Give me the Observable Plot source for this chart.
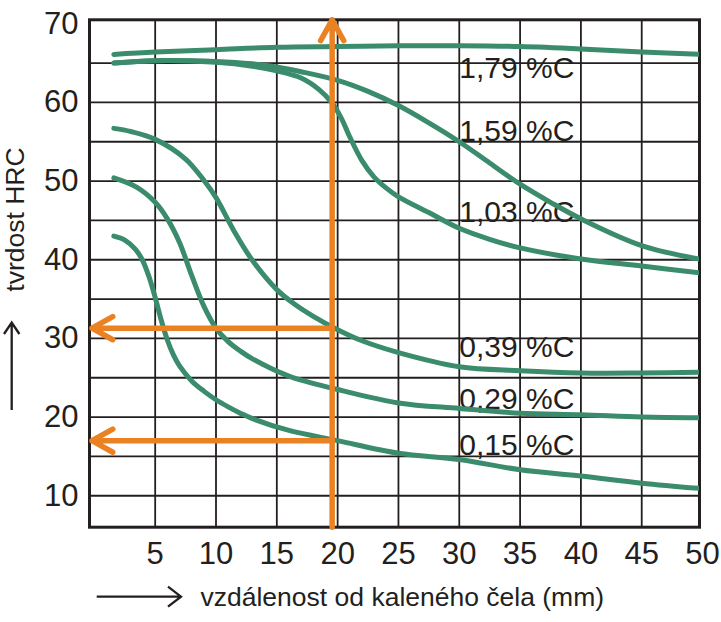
<!DOCTYPE html>
<html>
<head>
<meta charset="utf-8">
<script src="https://cdn.jsdelivr.net/npm/d3@7"></script>
<script src="https://cdn.jsdelivr.net/npm/@observablehq/plot@0.6"></script>
<style>
  html, body { margin: 0; padding: 0; background: #fff; }
</style>
</head>
<body>
<div id="chart"></div>
<script>
// ---- data ----
const xTicks = [5, 10, 15, 20, 25, 30, 35, 40, 45, 50];
const yTicks = [10, 20, 30, 40, 50, 60, 70];
const xGridLines = [5, 10, 15, 20, 25, 30, 35, 40, 45];
const yGridLines = [10, 15, 20, 25, 30, 35, 40, 45, 50, 55, 60, 65];

// 1,79 %C
const x179 = [1.6, 5, 10, 15, 20, 25, 30, 35, 40, 45, 50];
const y179 = [66.1, 66.4, 66.7, 67.0, 67.1, 67.2, 67.2, 67.1, 66.8, 66.4, 66.1];
// 1,59 %C
const x159 = [1.6, 5, 10, 13, 15, 17, 20, 22.5, 25, 27.5, 30, 32.5, 35, 37.5, 40, 45, 50];
const y159 = [65.0, 65.3, 65.2, 64.9, 64.5, 63.9, 62.8, 61.4, 59.6, 57.4, 55.0, 52.3, 49.6, 47.3, 45.2, 41.8, 40.0];
// 1,03 %C
const x103 = [1.6, 5, 10, 13, 15, 17, 18.5, 19.5, 20.3, 21, 22, 23, 24, 25, 27.5, 30, 32.5, 35, 40, 45, 50];
const y103 = [65.0, 65.3, 65.1, 64.6, 64.0, 63.1, 61.6, 60.0, 58.0, 55.6, 52.6, 50.5, 49.1, 48.0, 46.0, 44.0, 42.6, 41.5, 40.1, 39.2, 38.3];
// 0,39 %C
const x039 = [1.6, 3, 5, 7.5, 9, 10, 11.5, 13, 15, 16.5, 18, 20, 22, 25, 30, 35, 40, 45, 50];
const y039 = [56.7, 56.3, 55.3, 52.8, 50.1, 47.9, 43.6, 39.9, 36.2, 34.3, 32.8, 31.1, 29.7, 28.2, 26.4, 25.9, 25.6, 25.6, 25.7];
// 0,29 %C
const x029 = [1.6, 3.5, 5, 6, 7, 8, 9, 10, 11, 12, 13, 16, 20, 25, 30, 35, 40, 45, 50];
const y029 = [50.4, 49.2, 47.3, 45.2, 42.2, 38.0, 34.1, 31.3, 29.6, 28.4, 27.4, 25.2, 23.5, 21.8, 21.1, 20.5, 20.3, 20.0, 19.9];
// 0,15 %C
const x015 = [1.6, 2.5, 3.4, 4, 4.5, 5, 5.5, 6, 6.5, 7, 8, 9, 10, 11, 12, 13, 16, 20, 25, 30, 35, 40, 45, 50];
const y015 = [43.0, 42.5, 41.3, 39.8, 37.8, 35.2, 32.3, 29.8, 27.9, 26.5, 24.6, 23.3, 22.2, 21.3, 20.5, 19.8, 18.3, 17.0, 15.4, 14.6, 13.3, 12.5, 11.6, 10.9];

const seriesNames = ["1,79 %C", "1,59 %C", "1,03 %C", "0,39 %C", "0,29 %C", "0,15 %C"];
const seriesX = [x179, x159, x103, x039, x029, x015];
const seriesY = [y179, y159, y103, y039, y029, y015];

// curve labels (left edge at distance 30 mm, vertical centre in HRC)
const labelX = [30, 30, 30, 30, 30, 30];
const labelY = [64.3, 56.3, 46.0, 28.9, 22.3, 16.4];

// orange reading arrows
const readX = 19.55;
const readHRC = [31.3, 17.0];  // resulting hardness values
const arrowTop = 70.5, arrowBottom = 6, arrowLeft = -0.2;

const xTitle = "vzdálenost od kaleného čela (mm)";
const yTitle = "tvrdost HRC";

// ---- build tables ----
const curves = seriesNames.flatMap((name, i) =>
  seriesX[i].map((x, j) => ({series: name, x, y: seriesY[i][j]})));
const labels = seriesNames.map((name, i) => ({text: name, x: labelX[i], y: labelY[i]}));
const arrows = [
  {x1: readX, y1: arrowBottom, x2: readX, y2: arrowTop},
  ...readHRC.map(h => ({x1: readX, y1: h, x2: arrowLeft, y2: h}))
];

const green = "#3b8c6c";
const orange = "#ea8224";
const ink = "#231f20";

const chart = Plot.plot({
  width: 721,
  height: 622,
  marginLeft: 89,
  marginRight: 22,
  marginTop: 19.3,
  marginBottom: 95.3,
  style: {fontFamily: "'Liberation Sans', Arial, sans-serif", background: "#fff", color: ink},
  x: {domain: [-0.4, 49.75]},
  y: {domain: [6, 70.5]},
  marks: [
    Plot.gridX(xGridLines, {stroke: ink, strokeOpacity: 1, strokeWidth: 1.8}),
    Plot.gridY(yGridLines, {stroke: ink, strokeOpacity: 1, strokeWidth: 1.8}),
    Plot.frame({stroke: ink, strokeWidth: 3}),
    Plot.axisX(xTicks, {tickSize: 0, tickPadding: 15, fontSize: 31, label: null, fill: ink}),
    Plot.axisY(yTicks, {tickSize: 0, tickPadding: 11, fontSize: 31, label: null, fill: ink}),
    Plot.text(labels, {x: "x", y: "y", text: "text", textAnchor: "start", fontSize: 30, fill: ink}),
    Plot.line(curves, {x: "x", y: "y", z: "series", curve: "catmull-rom", stroke: green, strokeWidth: 5, clip: true}),
    Plot.arrow(arrows, {x1: "x1", y1: "y1", x2: "x2", y2: "y2", stroke: orange, strokeWidth: 5.5, headLength: 6.5, headAngle: 58}),
    Plot.text([xTitle], {frameAnchor: "bottom-left", dx: 111, dy: 78.3, textAnchor: "start", lineAnchor: "bottom", fontSize: 26.5, fill: ink}),
    Plot.text([yTitle], {frameAnchor: "left", dx: -65.7, dy: -54, rotate: -90, textAnchor: "middle", lineAnchor: "bottom", fontSize: 26.5, fill: ink})
  ]
});

// decorative direction arrows beside the axis titles
const svg = d3.select(chart);
const deco = svg.append("g").attr("fill", "none").attr("stroke", ink).attr("stroke-width", 2.3);
deco.append("path").attr("d", "M11.7,410V322.5M4,334L11.7,322.5L19.4,334");
deco.append("path").attr("d", "M96.7,596.7H181M168,586.7L181,596.7L168,606.7");

document.getElementById("chart").appendChild(chart);
</script>
</body>
</html>
